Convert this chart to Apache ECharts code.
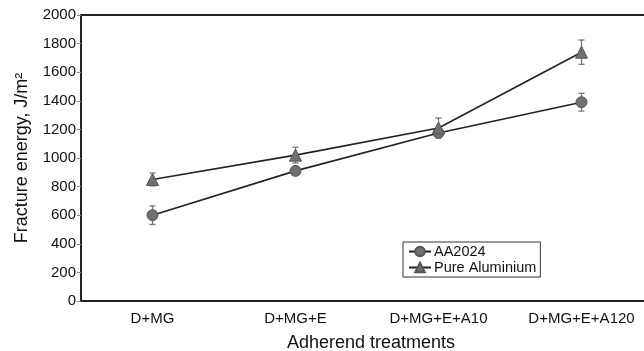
<!DOCTYPE html>
<html>
<head>
<meta charset="utf-8">
<script src="https://cdn.jsdelivr.net/npm/echarts@6/dist/echarts.min.js"></script>
<style>html,body{margin:0;padding:0;background:#fff}#c{width:644px;height:351px}</style>
</head>
<body>
<div id="c"></div>
<script>
var categories = ['D+MG', 'D+MG+E', 'D+MG+E+A10', 'D+MG+E+A120'];
var aa2024 = [600, 910, 1175, 1390];
var aa2024Err = [65, 20, 20, 62];
var pureAl = [850, 1020, 1210, 1740];
var pureAlErr = [45, 55, 70, 85];
var yTicks = [0, 200, 400, 600, 800, 1000, 1200, 1400, 1600, 1800, 2000];

var FONT = 'Liberation Sans, Arial, sans-serif';
var chart = echarts.init(document.getElementById('c'));
function errSeries(vals, errs) {
  return {
    type: 'custom',
    silent: true,
    z: 1,
    data: vals.map(function (v, i) { return [i, v - errs[i], v + errs[i]]; }),
    renderItem: function (params, api) {
      var lo = api.coord([api.value(0), api.value(1)]);
      var hi = api.coord([api.value(0), api.value(2)]);
      var w = 3;
      var st = { stroke: '#777', lineWidth: 1.3 };
      return { type: 'group', children: [
        { type: 'line', shape: { x1: lo[0], y1: lo[1], x2: hi[0], y2: hi[1] }, style: st },
        { type: 'line', shape: { x1: lo[0] - w, y1: lo[1], x2: lo[0] + w, y2: lo[1] }, style: st },
        { type: 'line', shape: { x1: hi[0] - w, y1: hi[1], x2: hi[0] + w, y2: hi[1] }, style: st }
      ]};
    }
  };
}
chart.setOption({
  animation: false,
  backgroundColor: '#fff',
  textStyle: { fontFamily: FONT },
  grid: { left: 81, top: 15, width: 572, height: 286, show: true, borderColor: '#222', borderWidth: 2,
          backgroundColor: 'transparent', outerBoundsMode: 'none', containLabel: false },
  legend: {
    orient: 'vertical', left: 403, top: 242,
    data: ['AA2024', 'Pure Aluminium'],
    borderColor: '#333', borderWidth: 1, padding: [2, 4, 2, 5],
    itemGap: 1, itemWidth: 22, itemHeight: 12,
    textStyle: { fontSize: 14.5, color: '#111', fontFamily: FONT, padding: [0, 0, 0, -2] }
  },
  xAxis: {
    type: 'category', data: categories, boundaryGap: true,
    name: 'Adherend treatments', nameLocation: 'middle', nameGap: 33,
    nameTextStyle: { fontSize: 18, color: '#111', padding: [0, 0, 0, 8] },
    axisLine: { lineStyle: { color: '#222', width: 2 } },
    axisTick: { show: false },
    axisLabel: { fontSize: 15, color: '#111', margin: 10 },
    splitLine: { show: false }
  },
  yAxis: {
    type: 'value', min: yTicks[0], max: yTicks[yTicks.length - 1], interval: 200,
    name: 'Fracture energy, J/m²', nameLocation: 'middle', nameGap: 50,
    nameTextStyle: { fontSize: 18, color: '#111' },
    axisLine: { show: true, lineStyle: { color: '#222', width: 2 } },
    axisTick: { show: true, length: 4, lineStyle: { color: '#888' } },
    axisLabel: { fontSize: 15, color: '#111', margin: 5, formatter: function (v) { return String(v); } },
    splitLine: { show: false }
  },
  series: [
    errSeries(aa2024, aa2024Err),
    errSeries(pureAl, pureAlErr),
    {
      name: 'AA2024', type: 'line', data: aa2024, z: 3,
      symbol: 'circle', symbolSize: 11,
      lineStyle: { color: '#222', width: 1.6 },
      itemStyle: { color: '#707070', borderColor: '#555', borderWidth: 1 }
    },
    {
      name: 'Pure Aluminium', type: 'line', data: pureAl, z: 3,
      symbol: 'triangle', symbolSize: 12,
      lineStyle: { color: '#222', width: 1.6 },
      itemStyle: { color: '#707070', borderColor: '#555', borderWidth: 1 }
    }
  ]
});
</script>
</body>
</html>
